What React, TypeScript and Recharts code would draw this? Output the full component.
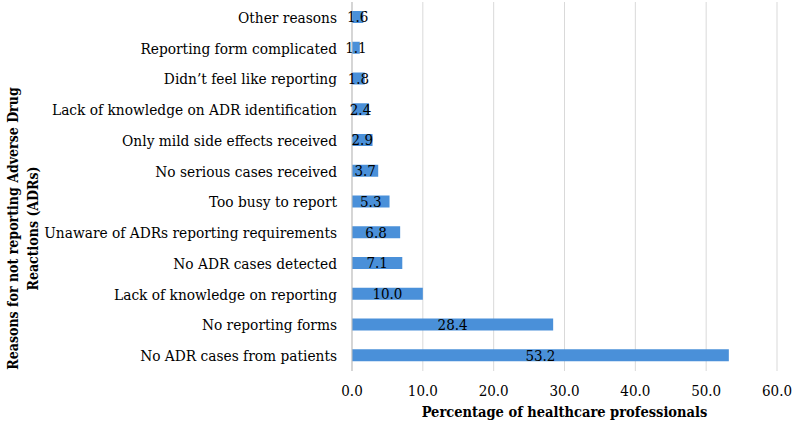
import { BarChart, Bar, XAxis, YAxis, CartesianGrid, LabelList, Label } from 'recharts';

// reasons listed top to bottom
const reasons = [
  'Other reasons',
  'Reporting form complicated',
  'Didn\u2019t feel like reporting',
  'Lack of knowledge on ADR identification',
  'Only mild side effects received',
  'No serious cases received',
  'Too busy to report',
  'Unaware of ADRs reporting requirements',
  'No ADR cases detected',
  'Lack of knowledge on reporting',
  'No reporting forms',
  'No ADR cases from patients',
];
const percentages = [1.6, 1.1, 1.8, 2.4, 2.9, 3.7, 5.3, 6.8, 7.1, 10.0, 28.4, 53.2];
const xTicks = [0, 10, 20, 30, 40, 50, 60];

const data = reasons.map((reason, i) => ({ reason, value: percentages[i] }));

const FONT = 'DejaVu Serif Condensed, DejaVu Serif';

function YTitle(props: any) {
  const vb = props.viewBox || {};
  const cy = vb.y + vb.height / 2 + 42;
  return (
    <text
      transform={`rotate(-90, 0, ${cy})`}
      x={0}
      y={cy}
      textAnchor="middle"
      fontFamily={FONT}
      fontWeight="bold"
      fontSize={14}
      fill="#000"
    >
      <tspan x={0} dy={18}>Reasons for not reporting  Adverse Drug</tspan>
      <tspan x={0} dy={20}>Reactions (ADRs)</tspan>
    </text>
  );
}

export default function App() {
  return (
    <div style={{ position: 'absolute', left: 0, top: 0, background: '#fff' }}>
      <BarChart
        width={794}
        height={427}
        data={data}
        layout="vertical"
        barSize={12}
        margin={{ top: 2, right: 17, bottom: 16, left: 0 }}
      >
        <CartesianGrid horizontal={false} stroke="#d9d9d9" strokeWidth={1} />
        <XAxis
          type="number"
          domain={[0, 60]}
          ticks={xTicks}
          tickFormatter={(v: number) => v.toFixed(1)}
          axisLine={false}
          tickLine={false}
          tickMargin={8}
          height={40}
          fontFamily={FONT}
          tick={{ fontSize: 15, fill: '#000' }}
        >
          <Label
            value="Percentage of healthcare professionals"
            position="insideBottom"
            offset={-6}
            fontFamily={FONT}
            fontSize={14.5}
            fontWeight="bold"
            fill="#000"
          />
        </XAxis>
        <YAxis
          type="category"
          dataKey="reason"
          width={352}
          axisLine={{ stroke: '#bfbfbf' }}
          tickLine={false}
          tickMargin={9}
          interval={0}
          fontFamily={FONT}
          tick={{ fontSize: 15.3, fill: '#000' }}
        >
          <Label content={YTitle} />
        </YAxis>
        <Bar dataKey="value" fill="#4a90d9" isAnimationActive={false}>
          <LabelList
            dataKey="value"
            position="center"
            formatter={(v: number) => v.toFixed(1)}
            fontFamily={FONT}
            fontSize={15}
            fill="#000"
          />
        </Bar>
      </BarChart>
    </div>
  );
}
